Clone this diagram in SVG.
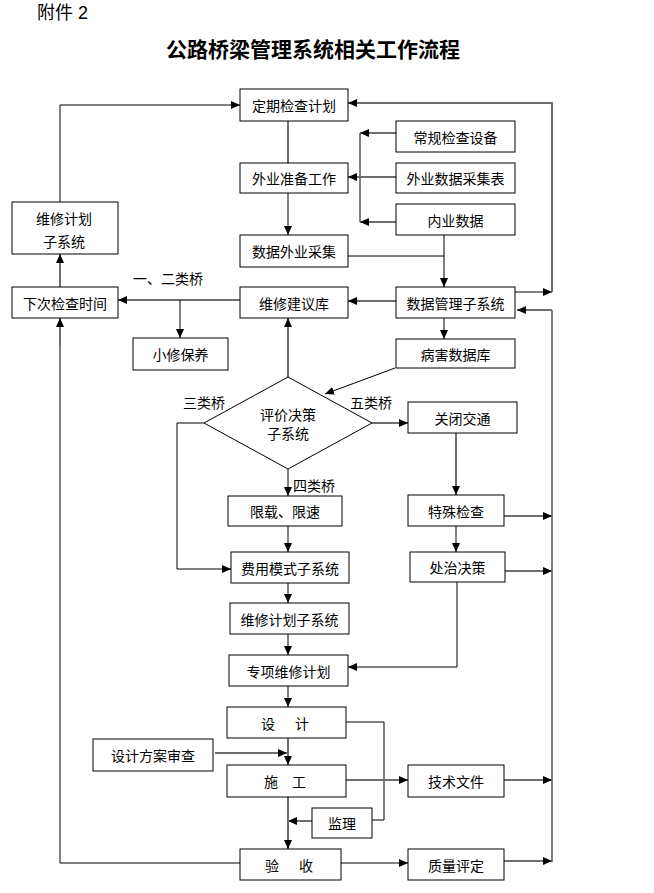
<svg xmlns="http://www.w3.org/2000/svg" width="654" height="893" viewBox="0 0 654 893">
<style>
.bg{fill:#fff}
.box{fill:#fff;stroke:#000;stroke-width:1}
.t{font-family:"Noto Sans CJK SC","Liberation Sans",sans-serif;font-size:14px;fill:#000;text-anchor:middle;dominant-baseline:central}
.lb{font-family:"Noto Sans CJK SC","Liberation Sans",sans-serif;font-size:14px;fill:#000;dominant-baseline:central}
.k{fill:none;stroke:#000;stroke-width:1}
.g{fill:none;stroke:#6e6e6e;stroke-width:2}
.a{marker-end:url(#ah)}
</style>
<defs>
<marker id="ah" markerUnits="userSpaceOnUse" markerWidth="9" markerHeight="8" refX="9" refY="4" orient="auto">
<path d="M0,0 L9,4 L0,8 z" fill="#000"/>
</marker>
</defs>
<rect class="bg" x="0" y="0" width="654" height="893"/>
<text x="37" y="19" font-family="Liberation Sans,Noto Sans CJK SC,sans-serif" font-size="18" fill="#000">附件 2</text>
<text x="313" y="48" font-family="Noto Sans CJK SC,Liberation Sans,sans-serif" font-size="21" font-weight="bold" fill="#000" text-anchor="middle" dominant-baseline="central">公路桥梁管理系统相关工作流程</text>

<g id="connectors">
<polyline class="k a" points="60,202 60,105 240,105"/>
<line class="g" x1="288" y1="121" x2="288" y2="163"/>
<line class="k a" x1="288" y1="193" x2="288" y2="235"/>
<line class="k a" x1="515" y1="292" x2="552" y2="292"/>
<polyline class="g a" points="552,292 552,103 348,103"/>
<line class="k" x1="552" y1="310" x2="552" y2="862"/>
<line class="g a" x1="552" y1="310" x2="517" y2="310"/>
<line class="k" x1="360" y1="133" x2="360" y2="222"/>
<line class="g a" x1="396" y1="133" x2="360" y2="133"/>
<line class="g a" x1="396" y1="222" x2="360" y2="222"/>
<line class="g a" x1="396" y1="177" x2="348" y2="177"/>
<line class="k" x1="348" y1="256" x2="444" y2="256"/>
<line class="k a" x1="444" y1="235" x2="444" y2="287"/>
<line class="g a" x1="396" y1="301" x2="348" y2="301"/>
<line class="g a" x1="240" y1="300" x2="118" y2="300"/>
<line class="k a" x1="180" y1="300" x2="180" y2="338"/>
<line class="g a" x1="60" y1="287" x2="60" y2="254"/>
<line class="k a" x1="444" y1="318" x2="444" y2="339"/>
<line class="k a" x1="395" y1="368" x2="325" y2="394"/>
<line class="g a" x1="288" y1="377" x2="288" y2="318"/>
<polyline class="k a" points="204,423 177,423 177,569 231,569"/>
<line class="g a" x1="372" y1="423" x2="408" y2="423"/>
<line class="k a" x1="288" y1="469" x2="288" y2="496"/>
<line class="k a" x1="288" y1="526" x2="288" y2="552"/>
<line class="g a" x1="456" y1="433" x2="456" y2="495"/>
<line class="g a" x1="504" y1="516" x2="552" y2="516"/>
<line class="k a" x1="456" y1="526" x2="456" y2="552"/>
<line class="g a" x1="505" y1="571" x2="552" y2="571"/>
<line class="k a" x1="288" y1="583" x2="288" y2="603"/>
<line class="k a" x1="288" y1="634" x2="288" y2="655"/>
<polyline class="k a" points="457,582 457,667 348,667"/>
<line class="k a" x1="288" y1="686" x2="288" y2="707"/>
<line class="g a" x1="288" y1="738" x2="288" y2="765"/>
<line class="g a" x1="215" y1="753" x2="287" y2="753"/>
<polyline class="k" points="346,722 384,722 384,820 372,820"/>
<line class="g a" x1="346" y1="780" x2="408" y2="780"/>
<line class="g a" x1="504" y1="780" x2="552" y2="780"/>
<line class="g a" x1="312" y1="821" x2="288" y2="821"/>
<line class="g a" x1="288" y1="797" x2="288" y2="849"/>
<line class="k a" x1="341" y1="863" x2="408" y2="863"/>
<line class="g a" x1="504" y1="861" x2="552" y2="861"/>
<polyline class="k" points="240,863 60,863 60,340"/>
<line class="g a" x1="60" y1="345" x2="60" y2="318"/>
</g>

<g id="n1"><rect class="box" x="240" y="89" width="108" height="32"/><text class="t" x="294" y="105">定期检查计划</text></g>
<g id="n2"><rect class="box" x="240" y="163" width="108" height="30"/><text class="t" x="294" y="178">外业准备工作</text></g>
<g id="n3"><rect class="box" x="240" y="235" width="108" height="32"/><text class="t" x="294" y="251">数据外业采集</text></g>
<g id="n4"><rect class="box" x="240" y="287" width="108" height="31"/><text class="t" x="294" y="302.5">维修建议库</text></g>
<g id="n5"><rect class="box" x="12" y="202" width="106" height="52"/><text class="t" x="64" y="218">维修计划</text><text class="t" x="64" y="241">子系统</text></g>
<g id="n6"><rect class="box" x="12" y="287" width="106" height="31"/><text class="t" x="65" y="302.5">下次检查时间</text></g>
<g id="n7"><rect class="box" x="133" y="338" width="95" height="32"/><text class="t" x="180.5" y="354">小修保养</text></g>
<g id="n8"><rect class="box" x="396" y="121" width="119" height="31"/><text class="t" x="455.5" y="136.5">常规检查设备</text></g>
<g id="n9"><rect class="box" x="396" y="163" width="119" height="30"/><text class="t" x="455.5" y="178">外业数据采集表</text></g>
<g id="n10"><rect class="box" x="396" y="204" width="119" height="31"/><text class="t" x="455.5" y="219.5">内业数据</text></g>
<g id="n11"><rect class="box" x="396" y="287" width="119" height="31"/><text class="t" x="455.5" y="302.5">数据管理子系统</text></g>
<g id="n12"><rect class="box" x="396" y="339" width="119" height="29"/><text class="t" x="455.5" y="353.5">病害数据库</text></g>
<g id="n13"><polygon class="box" points="288,377 372,423 288,469 204,423"/><text class="t" x="288" y="414">评价决策</text><text class="t" x="288" y="433">子系统</text></g>
<g id="n14"><rect class="box" x="408" y="402" width="109" height="31"/><text class="t" x="462.5" y="417.5">关闭交通</text></g>
<g id="n15"><rect class="box" x="228" y="496" width="114" height="30"/><text class="t" x="285" y="511">限载、限速</text></g>
<g id="n16"><rect class="box" x="408" y="495" width="96" height="31"/><text class="t" x="456" y="510.5">特殊检查</text></g>
<g id="n17"><rect class="box" x="231" y="552" width="118" height="31"/><text class="t" x="290" y="567.5">费用模式子系统</text></g>
<g id="n18"><rect class="box" x="410" y="552" width="95" height="30"/><text class="t" x="457.5" y="567">处治决策</text></g>
<g id="n19"><rect class="box" x="230" y="603" width="119" height="31"/><text class="t" x="289.5" y="618.5">维修计划子系统</text></g>
<g id="n20"><rect class="box" x="229" y="655" width="119" height="31"/><text class="t" x="288.5" y="670.5">专项维修计划</text></g>
<g id="n21"><rect class="box" x="227" y="707" width="119" height="31"/><text class="t" y="722.5"><tspan x="268">设</tspan><tspan x="302">计</tspan></text></g>
<g id="n22"><rect class="box" x="93" y="739" width="120" height="32"/><text class="t" x="153" y="755">设计方案审查</text></g>
<g id="n23"><rect class="box" x="227" y="765" width="119" height="32"/><text class="t" y="781"><tspan x="271">施</tspan><tspan x="299">工</tspan></text></g>
<g id="n24"><rect class="box" x="408" y="765" width="96" height="32"/><text class="t" x="456" y="781">技术文件</text></g>
<g id="n25"><rect class="box" x="312" y="808" width="60" height="30"/><text class="t" x="342" y="823">监理</text></g>
<g id="n26"><rect class="box" x="240" y="849" width="101" height="31"/><text class="t" y="864.5"><tspan x="272">验</tspan><tspan x="306">收</tspan></text></g>
<g id="n27"><rect class="box" x="408" y="849" width="96" height="31"/><text class="t" x="456" y="864.5">质量评定</text></g>

<g id="labels">
<text class="lb" x="133" y="278">一、二类桥</text>
<text class="lb" x="183" y="402">三类桥</text>
<text class="lb" x="350" y="402">五类桥</text>
<text class="lb" x="293" y="485">四类桥</text>
</g>
</svg>
